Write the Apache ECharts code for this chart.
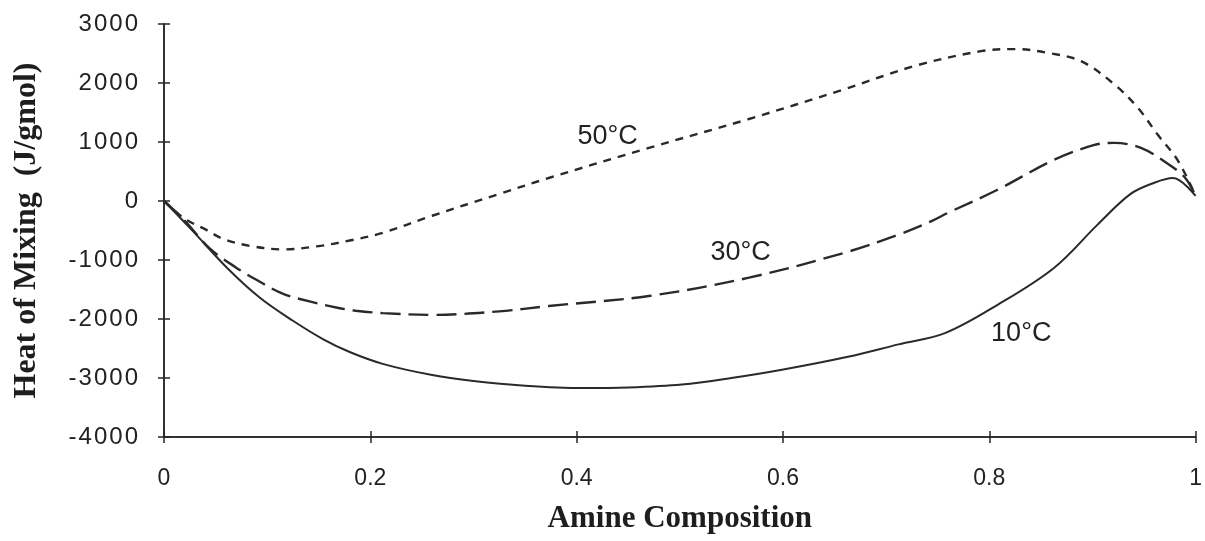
<!DOCTYPE html>
<html>
<head>
<meta charset="utf-8">
<script src="https://cdn.jsdelivr.net/npm/echarts@6/dist/echarts.min.js"></script>
<style>
  html, body { margin: 0; padding: 0; background: #fff; }
  #chart-container { width: 1205px; height: 541px; }
</style>
</head>
<body>
<div id="chart-container"></div>
<script>
// curves: [amine composition, heat of mixing]
var t10 = [[0, 0], [0.028, -510], [0.061, -1130], [0.093, -1640], [0.125, -2030], [0.154, -2340],
  [0.18, -2560], [0.212, -2760], [0.26, -2950], [0.3, -3050], [0.35, -3130], [0.405, -3170],
  [0.45, -3160], [0.502, -3110], [0.55, -3000], [0.599, -2860], [0.663, -2640], [0.712, -2430],
  [0.757, -2240], [0.808, -1760], [0.863, -1130], [0.905, -400], [0.937, 120], [0.96, 310],
  [0.978, 390], [1.0, 85]];
var t30 = [[0, 0], [0.02, -330], [0.044, -800], [0.07, -1130], [0.09, -1340], [0.115, -1570],
  [0.143, -1710], [0.168, -1810], [0.186, -1860], [0.212, -1900], [0.26, -1930], [0.325, -1870],
  [0.373, -1780], [0.47, -1610], [0.567, -1300], [0.663, -860], [0.712, -570], [0.744, -340],
  [0.76, -200], [0.808, 190], [0.863, 700], [0.902, 950], [0.921, 985], [0.947, 900],
  [0.973, 630], [0.99, 390], [1.0, 85]];
var t50 = [[0, 0], [0.02, -300], [0.041, -490], [0.057, -640], [0.083, -760], [0.115, -820],
  [0.148, -770], [0.18, -670], [0.212, -540], [0.26, -250], [0.325, 120], [0.373, 390],
  [0.47, 900], [0.567, 1390], [0.657, 1880], [0.728, 2290], [0.792, 2540], [0.825, 2575],
  [0.857, 2510], [0.889, 2370], [0.921, 1980], [0.944, 1580], [0.963, 1130], [0.983, 680],
  [1.0, 85]];

var seriesNames = ["10°C", "30°C", "50°C"];
var labelAt = [[0.831, -2240], [0.559, -880], [0.43, 1100]];

var ink = "#262626";
var hair = "\u200A";

function spaced(v) {
  return String(v).split("").join(hair);
}

var dom = document.getElementById("chart-container");
var myChart = echarts.init(dom, null, { renderer: "canvas" });

function xAx(inside) {
  return {
    type: "value", min: 0, max: 1, interval: 0.2, position: "bottom",
    name: inside ? "" : "Amine Composition",
    nameLocation: "middle", nameGap: 66,
    nameTextStyle: { fontFamily: "Liberation Serif, Times New Roman, serif", fontWeight: "bold", fontSize: 31, color: "#1e1e1e" },
    axisLine: { show: true, onZero: false, lineStyle: { color: ink, width: 1.5 } },
    axisTick: { show: true, inside: inside, length: 6, lineStyle: { color: ink, width: 1.5 } },
    axisLabel: {
      show: !inside, margin: 30, color: "#222", fontSize: 23,
      fontFamily: "Liberation Sans, Arial, sans-serif"
    },
    splitLine: { show: false }
  };
}
function yAx(inside) {
  return {
    type: "value", min: -4000, max: 3000, interval: 1000, position: "left",
    name: inside ? "" : "Heat of Mixing  (J/gmol)",
    nameLocation: "middle", nameGap: 121,
    nameTextStyle: { fontFamily: "Liberation Serif, Times New Roman, serif", fontWeight: "bold", fontSize: 32, color: "#1e1e1e" },
    axisLine: { show: true, onZero: false, lineStyle: { color: ink, width: 1.5 } },
    axisTick: { show: true, inside: inside, length: 6, lineStyle: { color: ink, width: 1.5 } },
    axisLabel: {
      show: !inside, margin: 26, color: "#222", fontSize: 24,
      fontFamily: "Liberation Sans, Arial, sans-serif",
      formatter: function (v) { return spaced(v); }
    },
    splitLine: { show: false }
  };
}

function curve(idx, data, lineType, width) {
  return {
    name: seriesNames[idx],
    type: "line",
    data: data,
    smooth: 0.35,
    showSymbol: false,
    lineStyle: { color: "#2a2a2a", width: width, type: lineType },
    markPoint: {
      symbol: "circle", symbolSize: 0,
      label: { show: true, formatter: seriesNames[idx], color: "#222", fontSize: 27,
        fontFamily: "Liberation Sans, Arial, sans-serif", position: "inside" },
      data: [{ coord: labelAt[idx] }]
    }
  };
}

var option = {
  animation: false,
  backgroundColor: "#fff",
  grid: { left: 164, right: 7, top: 24, bottom: 104 },
  xAxis: [xAx(false), xAx(true)],
  yAxis: [yAx(false), yAx(true)],
  series: [
    curve(0, t10, "solid", 2),
    curve(1, t30, [20, 8], 2.4),
    curve(2, t50, [8, 7], 2.4)
  ]
};

myChart.setOption(option);
window.addEventListener("resize", myChart.resize);
</script>
</body>
</html>
